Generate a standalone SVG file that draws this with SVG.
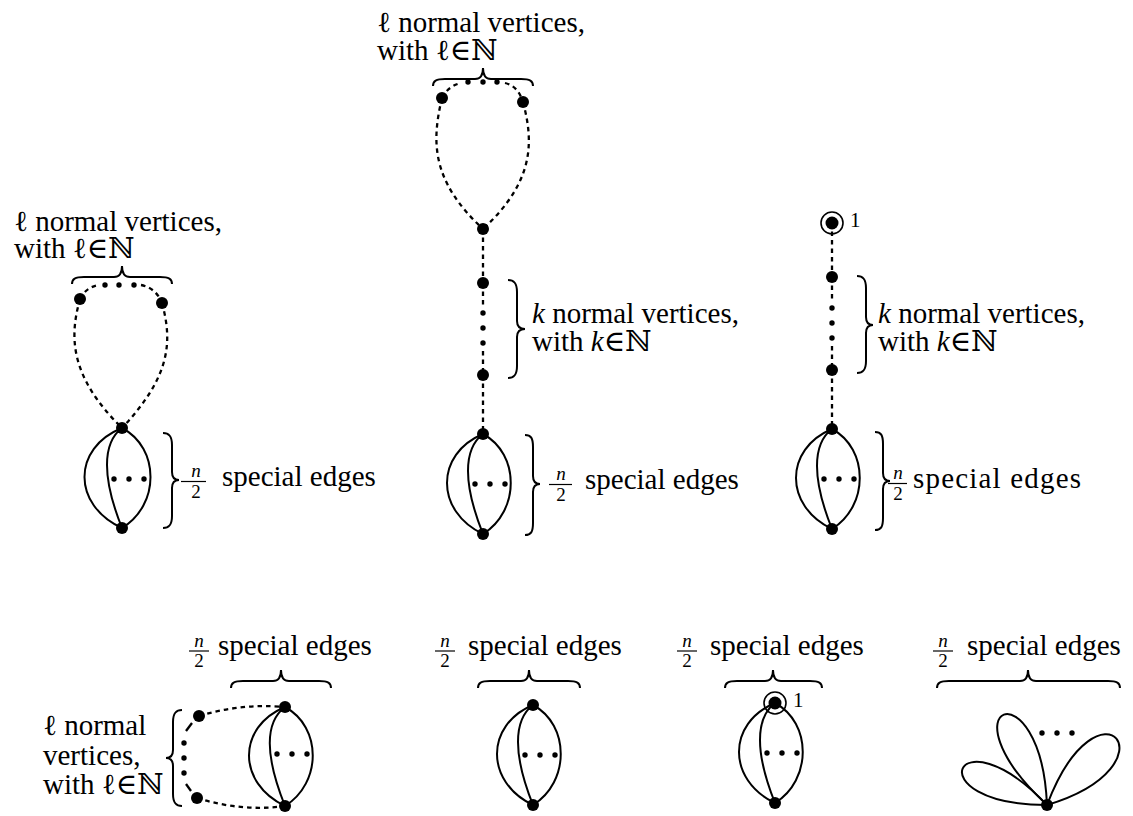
<svg xmlns="http://www.w3.org/2000/svg" width="1133" height="816" viewBox="0 0 1133 816" font-family="Liberation Serif, DejaVu Serif, serif">
<style>
.v{fill:#000}
.d{fill:#000}
.ring{fill:none;stroke:#000;stroke-width:1.6}
.e{fill:none;stroke:#000;stroke-width:2}
.dash{fill:none;stroke:#000;stroke-width:2.3;stroke-dasharray:4.5 4}
.sd{fill:none;stroke:#000;stroke-width:2.3}
.br{fill:none;stroke:#000;stroke-width:2}
.bar{stroke:#000;stroke-width:1.2}
.t{font-size:29px;fill:#000}
.f{font-size:19px;fill:#000;text-anchor:middle}
.s{font-size:21px;fill:#000}
.i{font-style:italic}
</style>
<rect width="1133" height="816" fill="#fff"/>

<g id="connectors">
  <path class="dash" d="M80,299 C70,335 68,375 122,428"/>
  <path class="dash" d="M162,303 C172,340 172,375 122,428"/>
  <path class="dash" d="M80,299 Q86,287 99,285"/>
  <path class="dash" d="M141,285 Q156,288 162,303"/>
  <path class="e" d="M122,428 C72,448 72,505 122,528"/>
  <path class="e" d="M122,428 C102,443 102,478 122,528"/>
  <path class="e" d="M122,428 C160,448 160,505 122,528"/>
  <path class="dash" d="M442,98 C432,140 430,180 483,229"/>
  <path class="dash" d="M523,102 C533,140 536,180 483,229"/>
  <path class="dash" d="M442,98 Q448,86 461,83"/>
  <path class="dash" d="M505,83 Q518,86 523,102"/>
  <path class="dash" d="M483,229 L483,283"/>
  <path class="dash" d="M483,283 L483,305"/>
  <path class="dash" d="M483,351 L483,375"/>
  <path class="dash" d="M483,375 L483,434"/>
  <path class="e" d="M483,434 C435,454 435,511 483,534"/>
  <path class="e" d="M483,434 C463,449 463,484 483,534"/>
  <path class="e" d="M483,434 C520,454 520,511 483,534"/>
  <path class="dash" d="M832,223 L832,277"/>
  <path class="dash" d="M832,277 L832,300"/>
  <path class="dash" d="M832,346 L832,370"/>
  <path class="dash" d="M832,370 L832,429"/>
  <path class="e" d="M832,429 C784,449 784,506 832,529"/>
  <path class="e" d="M832,429 C812,444 812,479 832,529"/>
  <path class="e" d="M832,429 C869,449 869,506 832,529"/>
  <path class="dash" d="M199,716 Q242,703 285,707"/>
  <path class="dash" d="M197,798 Q242,812 285,806"/>
  <path class="sd" d="M192,723 L186,731"/>
  <path class="sd" d="M186,784 L191,791"/>
  <path class="e" d="M285,707 C237,727 237,783 285,806"/>
  <path class="e" d="M285,707 C265,722 265,756 285,806"/>
  <path class="e" d="M285,707 C322,727 322,783 285,806"/>
  <path class="e" d="M533,705 C485,725 485,782 533,805"/>
  <path class="e" d="M533,705 C513,720 513,755 533,805"/>
  <path class="e" d="M533,705 C570,725 570,782 533,805"/>
  <path class="e" d="M775,703 C727,723 727,780 775,803"/>
  <path class="e" d="M775,703 C755,718 755,753 775,803"/>
  <path class="e" d="M775,703 C812,723 812,780 775,803"/>
  <path class="e" d="M1047,805 C955,708 914,805 1047,805"/>
  <path class="e" d="M1047,805 C1041,665 938,704 1047,805"/>
  <path class="e" d="M1047,805 C1180,765 1099,668 1047,805"/>
</g>

<g id="fig-top-left">
  <g id="tl-nodes">
    <circle class="v" cx="80" cy="299" r="6"/>
    <circle class="v" cx="162" cy="303" r="6"/>
    <circle class="v" cx="122" cy="428" r="6"/>
    <circle class="v" cx="122" cy="528" r="6"/>
    <circle class="d" cx="105" cy="285" r="2.7"/>
    <circle class="d" cx="119" cy="285" r="2.7"/>
    <circle class="d" cx="134" cy="285" r="2.7"/>
    <circle class="d" cx="114" cy="479" r="2.7"/>
    <circle class="d" cx="129" cy="479" r="2.7"/>
    <circle class="d" cx="144" cy="479" r="2.7"/>
  </g>
  <g id="tl-labels">
    <text class="t" x="14" y="231">ℓ  normal vertices,</text>
    <text class="t" x="14" y="258">with ℓ∈ℕ</text>
    <path class="br" d="M72,284 C72,279 75,277 84,277 L114,277 C119,277 122,274 122,266 C122,274 125,277 130,277 L160,277 C169,277 172,279 172,284"/>
    <path class="br" d="M163,433 C169,433 172,436 172,445 L172,472 C172,477 174,480 179,480 C174,480 172,483 172,488 L172,516 C172,525 169,528 163,528"/>
    <text class="f i" x="196" y="477">n</text>
    <line class="bar" x1="181" y1="481.5" x2="206" y2="481.5"/>
    <text class="f" x="196" y="498">2</text>
    <text class="t" x="222" y="486">special edges</text>
  </g>
</g>

<g id="fig-top-middle">
  <g id="tm-nodes">
    <circle class="v" cx="442" cy="98" r="6"/>
    <circle class="v" cx="523" cy="102" r="6"/>
    <circle class="v" cx="483" cy="229" r="6"/>
    <circle class="v" cx="483" cy="283" r="6"/>
    <circle class="v" cx="483" cy="375" r="6"/>
    <circle class="v" cx="483" cy="434" r="6"/>
    <circle class="v" cx="483" cy="534" r="6"/>
    <circle class="d" cx="468" cy="82" r="2.7"/>
    <circle class="d" cx="483" cy="82" r="2.7"/>
    <circle class="d" cx="497" cy="82" r="2.7"/>
    <circle class="d" cx="483" cy="313" r="2.7"/>
    <circle class="d" cx="483" cy="328" r="2.7"/>
    <circle class="d" cx="483" cy="343" r="2.7"/>
    <circle class="d" cx="475" cy="484" r="2.7"/>
    <circle class="d" cx="490" cy="484" r="2.7"/>
    <circle class="d" cx="505" cy="484" r="2.7"/>
  </g>
  <g id="tm-labels">
    <text class="t" x="377" y="32">ℓ  normal vertices,</text>
    <text class="t" x="377" y="60">with ℓ∈ℕ</text>
    <path class="br" d="M433,86 C433,81 436,79 445,79 L475,79 C480,79 483,76 483,68 C483,76 486,79 491,79 L521,79 C530,79 533,81 533,86"/>
    <path class="br" d="M508,280 C514,280 517,283 517,292 L517,321 C517,326 519,329 525,329 C519,329 517,332 517,337 L517,366 C517,375 514,378 508,378"/>
    <text class="t" x="532" y="323"><tspan class="i">k</tspan> normal vertices,</text>
    <text class="t" x="532" y="351">with <tspan class="i">k</tspan>∈ℕ</text>
    <path class="br" d="M525,435 C531,435 533,438 533,447 L533,476 C533,481 535,484 540,484 C535,484 533,487 533,492 L533,523 C533,532 531,535 525,535"/>
    <text class="f i" x="561" y="480">n</text>
    <line class="bar" x1="549" y1="484.5" x2="572" y2="484.5"/>
    <text class="f" x="561" y="501">2</text>
    <text class="t" x="585" y="489">special edges</text>
  </g>
</g>

<g id="fig-top-right">
  <g id="tr-nodes">
    <circle class="ring" cx="832" cy="223" r="11"/>
    <circle class="v" cx="832" cy="223" r="6.5"/>
    <circle class="v" cx="832" cy="277" r="6"/>
    <circle class="v" cx="832" cy="370" r="6"/>
    <circle class="v" cx="832" cy="429" r="6"/>
    <circle class="v" cx="832" cy="529" r="6"/>
    <circle class="d" cx="832" cy="308" r="2.7"/>
    <circle class="d" cx="832" cy="323" r="2.7"/>
    <circle class="d" cx="832" cy="338" r="2.7"/>
    <circle class="d" cx="824" cy="479" r="2.7"/>
    <circle class="d" cx="839" cy="479" r="2.7"/>
    <circle class="d" cx="854" cy="479" r="2.7"/>
  </g>
  <g id="tr-labels">
    <text class="s" x="850" y="227">1</text>
    <path class="br" d="M857,276 C863,276 866,279 866,288 L866,317 C866,322 868,325 873,325 C868,325 866,328 866,333 L866,361 C866,370 863,373 857,373"/>
    <text class="t" x="878" y="323"><tspan class="i">k</tspan> normal vertices,</text>
    <text class="t" x="878" y="351">with <tspan class="i">k</tspan>∈ℕ</text>
    <path class="br" d="M875,432 C881,432 883,435 883,444 L883,473 C883,478 885,481 890,481 C885,481 883,484 883,489 L883,518 C883,527 881,530 875,530"/>
    <text class="f i" x="898" y="479">n</text>
    <line class="bar" x1="888" y1="483.5" x2="907" y2="483.5"/>
    <text class="f" x="898" y="500">2</text>
    <text class="t" x="913" y="488" textLength="168" lengthAdjust="spacing">special edges</text>
  </g>
</g>

<g id="fig-bottom-1">
  <g id="b1-nodes">
    <circle class="v" cx="199" cy="716" r="6"/>
    <circle class="v" cx="197" cy="798" r="6"/>
    <circle class="v" cx="285" cy="707" r="6"/>
    <circle class="v" cx="285" cy="806" r="6"/>
    <circle class="d" cx="184" cy="743" r="2.7"/>
    <circle class="d" cx="184" cy="758" r="2.7"/>
    <circle class="d" cx="184" cy="773" r="2.7"/>
    <circle class="d" cx="277" cy="754" r="2.7"/>
    <circle class="d" cx="292" cy="754" r="2.7"/>
    <circle class="d" cx="307" cy="754" r="2.7"/>
  </g>
  <g id="b1-labels">
    <text class="t" x="43" y="735">ℓ  normal</text>
    <text class="t" x="43" y="765">vertices,</text>
    <text class="t" x="43" y="794">with ℓ∈ℕ</text>
    <path class="br" d="M182,710 C176,710 173,713 173,722 L173,750 C173,755 171,758 166,758 C171,758 173,761 173,766 L173,794 C173,803 176,806 182,806"/>
    <path class="br" d="M231,688 C231,683 234,681 243,681 L273,681 C278,681 281,678 281,670 C281,678 284,681 289,681 L319,681 C328,681 331,683 331,688"/>
    <text class="f i" x="199" y="647">n</text>
    <line class="bar" x1="189" y1="651" x2="209" y2="651"/>
    <text class="f" x="199" y="667">2</text>
    <text class="t" x="218" y="655">special edges</text>
  </g>
</g>

<g id="fig-bottom-2">
  <g id="b2-nodes">
    <circle class="v" cx="533" cy="705" r="6"/>
    <circle class="v" cx="533" cy="805" r="6"/>
    <circle class="d" cx="525" cy="755" r="2.7"/>
    <circle class="d" cx="540" cy="755" r="2.7"/>
    <circle class="d" cx="555" cy="755" r="2.7"/>
  </g>
  <g id="b2-labels">
    <path class="br" d="M478,688 C478,683 481,681 490,681 L521,681 C526,681 529,678 529,670 C529,678 532,681 537,681 L568,681 C577,681 580,683 580,688"/>
    <text class="f i" x="445" y="647">n</text>
    <line class="bar" x1="435" y1="651" x2="455" y2="651"/>
    <text class="f" x="445" y="667">2</text>
    <text class="t" x="468" y="655">special edges</text>
  </g>
</g>

<g id="fig-bottom-3">
  <g id="b3-nodes">
    <circle class="ring" cx="775" cy="703" r="11"/>
    <circle class="v" cx="775" cy="703" r="6.5"/>
    <circle class="v" cx="775" cy="803" r="6"/>
    <circle class="d" cx="767" cy="753" r="2.7"/>
    <circle class="d" cx="782" cy="753" r="2.7"/>
    <circle class="d" cx="797" cy="753" r="2.7"/>
  </g>
  <g id="b3-labels">
    <text class="s" x="793" y="707">1</text>
    <path class="br" d="M725,688 C725,683 728,681 737,681 L765,681 C770,681 773,678 773,670 C773,678 776,681 781,681 L810,681 C819,681 822,683 822,688"/>
    <text class="f i" x="687" y="647">n</text>
    <line class="bar" x1="677" y1="651" x2="697" y2="651"/>
    <text class="f" x="687" y="667">2</text>
    <text class="t" x="710" y="655">special edges</text>
  </g>
</g>

<g id="fig-bottom-4">
  <g id="b4-nodes">
    <circle class="v" cx="1047" cy="805" r="6"/>
    <circle class="d" cx="1042" cy="733" r="2.7"/>
    <circle class="d" cx="1057" cy="733" r="2.7"/>
    <circle class="d" cx="1072" cy="733" r="2.7"/>
  </g>
  <g id="b4-labels">
    <path class="br" d="M937,688 C937,683 940,681 949,681 L1020,681 C1025,681 1028,678 1028,670 C1028,678 1031,681 1036,681 L1108,681 C1117,681 1120,683 1120,688"/>
    <text class="f i" x="943" y="647">n</text>
    <line class="bar" x1="933" y1="651" x2="953" y2="651"/>
    <text class="f" x="943" y="667">2</text>
    <text class="t" x="967" y="655">special edges</text>
  </g>
</g>
</svg>
